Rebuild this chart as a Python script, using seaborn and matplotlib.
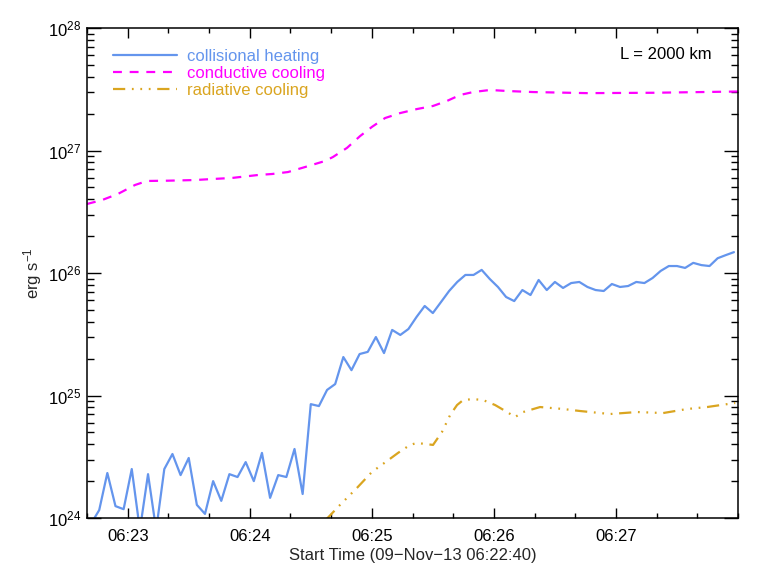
import numpy as np
import pandas as pd
import matplotlib
matplotlib.use("Agg")
import matplotlib.pyplot as plt
import matplotlib.ticker as mticker
import seaborn as sns

# time axis: seconds after 09-Nov-13 06:22:40
start_h, start_m, start_s = 6, 22, 40
x_range = (0, 320)

# collisional heating, 4 s cadence
heat_time = np.arange(2, 322, 4)
heat_vals = [
    0.9e24, 1.16e24, 2.33e24, 1.25e24, 1.18e24, 2.51e24, 0.8e24, 2.28e24, 0.8e24, 2.51e24,
    3.33e24, 2.24e24, 3.09e24, 1.28e24, 1.08e24, 2.0e24, 1.38e24, 2.28e24, 2.16e24, 2.86e24,
    2.0e24, 3.4e24, 1.46e24, 2.24e24, 2.16e24, 3.66e24, 1.57e24, 8.5e24, 8.2e24, 1.11e25,
    1.24e25, 2.06e25, 1.61e25, 2.18e25, 2.27e25, 3.0e25, 2.22e25, 3.43e25, 3.12e25, 3.49e25,
    4.38e25, 5.38e25, 4.71e25, 5.79e25, 7.13e25, 8.45e25, 9.64e25, 9.64e25, 1.06e26, 8.93e25,
    7.69e25, 6.37e25, 5.9e25, 7.26e25, 6.61e25, 8.77e25, 7.26e25, 8.45e25, 7.55e25, 8.28e25,
    8.45e25, 7.69e25, 7.26e25, 7.13e25, 8.13e25, 7.69e25, 7.83e25, 8.45e25, 8.28e25, 9.1e25,
    1.04e26, 1.14e26, 1.14e26, 1.10e26, 1.21e26, 1.16e26, 1.14e26, 1.32e26, 1.40e26, 1.48e26,
]

# conductive cooling
cond_time = [0, 7.4, 15.2, 23.6, 29.5, 39.8, 53.1, 61.5, 71.3, 84.1, 91, 98.8, 107.2, 117,
             120.9, 127.8, 134.2, 140.1, 146.5, 153.9, 162.2, 170.1, 177, 183.4, 189.8,
             198.1, 206.5, 219.3, 245.8, 278.3, 320]
cond_vals = [3.66e26, 3.94e26, 4.42e26, 5.23e26, 5.64e26, 5.67e26, 5.74e26, 5.85e26, 5.97e26,
             6.31e26, 6.43e26, 6.67e26, 7.33e26, 8.21e26, 8.85e26, 1.05e27, 1.31e27, 1.56e27,
             1.84e27, 2.02e27, 2.18e27, 2.31e27, 2.54e27, 2.84e27, 3.0e27, 3.12e27, 3.06e27,
             3.0e27, 2.94e27, 2.96e27, 3.03e27]

# radiative cooling
rad_time = [117.5, 124.4, 132.7, 140.1, 147.5, 152.9, 158.8, 162.2, 166.2, 170.1, 174.5,
            178.5, 181.9, 184.9, 189.8, 194.7, 200.6, 206.5, 210.4, 214.4, 222.7, 234,
            242.4, 257.1, 270.4, 283.2, 295, 304.8, 318.6]
rad_vals = [0.97e24, 1.28e24, 1.76e24, 2.38e24, 2.92e24, 3.4e24, 3.95e24, 4.1e24, 4.02e24,
            3.95e24, 5.04e24, 6.93e24, 8.36e24, 9.18e24, 9.35e24, 9.18e24, 8.36e24, 7.33e24,
            6.67e24, 7.33e24, 8.05e24, 7.76e24, 7.47e24, 7.06e24, 7.33e24, 7.19e24, 7.76e24,
            8.05e24, 8.69e24]

heat = pd.DataFrame({"t": heat_time, "v": heat_vals})
cond = pd.DataFrame({"t": cond_time, "v": cond_vals})
rad = pd.DataFrame({"t": rad_time, "v": rad_vals})

sns.set_theme(style="ticks")
plt.rcParams["font.family"] = ["Liberation Sans", "DejaVu Sans"]
plt.rcParams["mathtext.fontset"] = "custom"
plt.rcParams["mathtext.rm"] = "Liberation Sans"
plt.rcParams["mathtext.it"] = "Liberation Sans"

fig = plt.figure(figsize=(7.64, 5.74), dpi=100)
ax = fig.add_axes([87 / 764, 1 - 518 / 574, 651 / 764, 490 / 574])

sns.lineplot(data=heat, x="t", y="v", ax=ax, color="#6495ED", lw=1.6,
             label="collisional heating", sort=False)
sns.lineplot(data=cond, x="t", y="v", ax=ax, color="#FF00FF", lw=1.6,
             linestyle=(0, (4, 3.5)), label="conductive cooling", sort=False)
sns.lineplot(data=rad, x="t", y="v", ax=ax, color="#DAA520", lw=1.6,
             linestyle=(0, (5.5, 3, 0.8, 3, 0.8, 3, 0.8, 3)), label="radiative cooling",
             sort=False)

ax.set_yscale("log")
ax.set_ylim(1e24, 1e28)
ax.set_xlim(*x_range)

def fmt_time(t, pos=None):
    total = start_h * 3600 + start_m * 60 + start_s + int(round(t))
    return f"{total // 3600:02d}:{(total % 3600) // 60:02d}"

ax.xaxis.set_major_locator(mticker.FixedLocator([20, 80, 140, 200, 260]))
ax.xaxis.set_minor_locator(mticker.MultipleLocator(20))
ax.xaxis.set_major_formatter(mticker.FuncFormatter(fmt_time))
ax.yaxis.set_minor_locator(mticker.LogLocator(base=10, subs=np.arange(2, 10), numticks=20))
ax.yaxis.set_minor_formatter(mticker.NullFormatter())

ax.tick_params(which="both", direction="in", top=True, right=True, colors="black",
               labelsize=12, width=1.0)
ax.tick_params(axis="x", which="major", length=7, pad=8)
ax.tick_params(axis="x", which="minor", length=3.6)
ax.tick_params(axis="y", which="major", length=10, pad=4)
ax.tick_params(axis="y", which="minor", length=5)
for s in ax.spines.values():
    s.set_linewidth(1.1)
    s.set_color("black")

ax.set_xlabel("Start Time (09\u2212Nov\u221213 06:22:40)", fontsize=12, labelpad=3)
ax.set_ylabel("erg s$^{-1}$", fontsize=12, labelpad=3)

ax.text(0.96, 0.945, "L = 2000 km", transform=ax.transAxes, ha="right", va="center",
        fontsize=12, color="black")

ax.legend(loc="upper left", bbox_to_anchor=(0.040, 0.958), frameon=False, fontsize=12,
          handlelength=3.85, handletextpad=0.6, labelspacing=0.13, borderpad=0,
          borderaxespad=0, labelcolor="linecolor")

fig.savefig("out.png", dpi=100)
